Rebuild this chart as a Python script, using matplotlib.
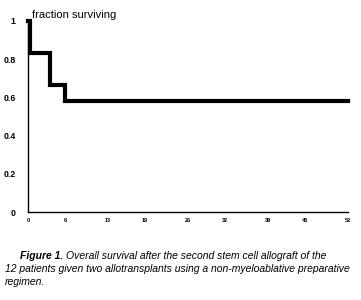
import matplotlib
matplotlib.use("Agg")
import matplotlib.pyplot as plt

# survival curve (weeks, fraction surviving)
weeks = [0, 0.3, 3.5, 6.0, 52]
surviving = [1.0, 0.833, 0.667, 0.583, 0.583]

xticks = [0, 6, 13, 19, 26, 32, 39, 45, 52]
yticks = [0, 0.2, 0.4, 0.6, 0.8, 1]
ytick_labels = ["0", "0.2", "0.4", "0.6", "0.8", "1"]

plt.rcParams['font.family'] = ['Liberation Sans', 'DejaVu Sans']

fig = plt.figure(figsize=(3.61, 3.0), dpi=100)
ax = fig.add_axes([0.078, 0.293, 0.886, 0.637])

ax.step(weeks, surviving, where="post", color="black", linewidth=3.0,
        solid_joinstyle="miter", clip_on=False)

ax.set_xlim(0, 52)
ax.set_ylim(0, 1)
ax.set_xticks(xticks)
ax.set_xticklabels([str(t) for t in xticks], fontsize=4, fontweight="bold")
ax.set_yticks(yticks)
ax.set_yticklabels(ytick_labels, fontsize=6.3, fontweight="bold")
ax.tick_params(axis="y", length=0, pad=9)
ax.tick_params(axis="x", length=0, pad=4)
ax.spines["top"].set_visible(False)
ax.spines["right"].set_visible(False)
ax.spines["left"].set_linewidth(1.0)
ax.spines["bottom"].set_linewidth(1.0)

fig.text(0.088, 0.95, "fraction surviving", fontsize=8, va="center")

# caption
fig.canvas.draw()
r = fig.canvas.get_renderer()
t1 = fig.text(0.055, 0.148, "Figure 1.", fontsize=7.5, fontweight="bold",
              style="italic", va="center")
bb = t1.get_window_extent(renderer=r)
fig.text(bb.x1 / fig.bbox.width + 0.008, 0.148,
         "Overall survival after the second stem cell allograft of the",
         fontsize=7.5, style="italic", va="center")
fig.text(0.014, 0.103,
         "12 patients given two allotransplants using a non-myeloablative preparative",
         fontsize=7.5, style="italic", va="center")
fig.text(0.014, 0.06, "regimen.", fontsize=7.5, style="italic", va="center")

fig.savefig("out.png", dpi=100)
